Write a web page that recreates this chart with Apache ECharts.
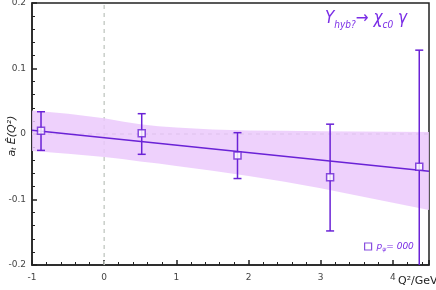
<!DOCTYPE html>
<html>
<head>
<meta charset="utf-8">
<script src="https://cdn.jsdelivr.net/npm/echarts@6/dist/echarts.min.js"></script>
<style>html,body{margin:0;padding:0;background:#fff}#c{width:436px;height:290px}</style>
</head>
<body>
<div id="c"></div>
<script>
// Data points: x, value, error-bar bottom, error-bar top
const pointX   = [-0.875, 0.52, 1.847, 3.13, 4.365];
const pointY   = [0.005, 0.001, -0.033, -0.066, -0.050];
const errLow   = [-0.025, -0.031, -0.068, -0.148, -0.200];
const errHigh  = [0.034, 0.031, 0.002, 0.015, 0.128];
// Fit line end points
const fitX = [-1, 4.5];
const fitY = [0.0056, -0.057];
// Error band
const bandX    = [-1, -0.5, 0, 0.25, 0.5, 0.75, 1, 1.5, 2, 2.5, 3, 3.5, 4, 4.5];
const bandHigh = [0.036, 0.031, 0.024, 0.019, 0.015, 0.012, 0.010, 0.007, 0.0055, 0.0048, 0.0042, 0.0037, 0.0033, 0.003];
const bandLow  = [-0.026, -0.030, -0.035, -0.038, -0.042, -0.045, -0.049, -0.056, -0.064, -0.073, -0.083, -0.094, -0.105, -0.116];
// Axis ranges and titles
const xRange = [-1, 4.5];
const yRange = [-0.2, 0.2];
const xTitle = 'Q²/GeV';
const yTitle = 'a{sub|t} Ê(Q²)';

const PURPLE = '#6a22d6';
const BAND = '#ebc9fc';
const DASH = '#c9cec9';

const chart = echarts.init(document.getElementById('c'), null, {renderer: 'canvas'});

const errData = pointX.map((x, i) => [x, pointY[i], errLow[i], errHigh[i]]);

chart.setOption({
  animation: false,
  textStyle: {fontFamily: 'DejaVu Sans'},
  title: {
    text: 'Υ{sub|hyb?}→ χ{sub|c0} γ',
    left: 325, top: 8, padding: 0,
    textStyle: {
      fontFamily: 'DejaVu Sans Condensed', fontStyle: 'italic', fontSize: 17, fontWeight: 'normal', color: '#7a2de6',
      rich: {
        sub: {fontFamily: 'DejaVu Sans Condensed', fontStyle: 'italic', fontSize: 10, color: '#7a2de6', verticalAlign: 'bottom', padding: [12, 0, 0, 0]}
      }
    }
  },
  legend: {
    left: 364, top: 242, padding: 0,
    itemWidth: 7, itemHeight: 7, itemGap: 6,
    data: [{name: 'p_psi', icon: 'rect', itemStyle: {color: '#fff', borderColor: PURPLE, borderWidth: 1.2}}],
    formatter: function () { return '{i|p}{s|ψ}{i|= 000}'; },
    textStyle: {
      color: '#7a2de6', fontStyle: 'italic', fontSize: 9,
      rich: {
        i: {fontStyle: 'italic', fontSize: 9, color: '#7a2de6'},
        s: {fontStyle: 'italic', fontSize: 6, color: '#7a2de6', padding: [6, 0, 0, 0]}
      }
    }
  },
  graphic: [
    {
      type: 'text', left: 398, top: 276, silent: true,
      style: {text: xTitle, fill: '#222', font: '11px "DejaVu Sans"'}
    },
    {
      type: 'text', x: 12, y: 136, rotation: Math.PI / 2, silent: true,
      style: {
        text: yTitle, fill: '#222', align: 'center', verticalAlign: 'middle',
        font: 'italic 11px "DejaVu Sans"',
        rich: {sub: {fontSize: 7, fontStyle: 'italic', fill: '#222', padding: [5, 0, 0, 0]}}
      }
    }
  ],
  grid: {left: 32, right: 7, top: 3, bottom: 25, containLabel: false, outerBoundsMode: 'none',
    show: true, borderColor: '#222', borderWidth: 1.5, backgroundColor: 'transparent'},
  xAxis: {
    type: 'value', min: xRange[0], max: xRange[1], interval: 1,
    axisLine: {onZero: false, lineStyle: {color: '#222', width: 1.5}},
    axisTick: {inside: true, length: 5, lineStyle: {color: '#222', width: 1.5}},
    minorTick: {show: true, splitNumber: 5, length: 3, lineStyle: {color: '#222', width: 1}},
    axisLabel: {color: '#444', fontSize: 9, margin: 8, showMaxLabel: false},
    splitLine: {show: false}
  },
  yAxis: {
    type: 'value', min: yRange[0], max: yRange[1], interval: 0.1,
    axisLine: {onZero: false, lineStyle: {color: '#222', width: 1.5}},
    axisTick: {inside: true, length: 5, lineStyle: {color: '#222', width: 1.5}},
    minorTick: {show: true, splitNumber: 5, length: 3, lineStyle: {color: '#222', width: 1}},
    axisLabel: {color: '#444', fontSize: 9, margin: 6},
    splitLine: {show: false}
  },
  series: [
    {
      type: 'line', name: 'zeroV', silent: true, symbol: 'none', z: 1,
      data: [[0, yRange[0]], [0, yRange[1]]],
      lineStyle: {color: DASH, width: 1.5, type: [4, 4]}
    },
    {
      type: 'line', name: 'zeroH', silent: true, symbol: 'none', z: 1,
      data: [[xRange[0], 0], [xRange[1], 0]],
      lineStyle: {color: '#b9bdb9', width: 1.5, type: [4, 4]}
    },
    {
      type: 'custom', name: 'band', silent: true, z: 2,
      data: [[bandX[0], bandHigh[0]]],
      renderItem: function (params, api) {
        const pts = [];
        for (let i = 0; i < bandX.length; i++) pts.push(api.coord([bandX[i], bandHigh[i]]));
        for (let i = bandX.length - 1; i >= 0; i--) pts.push(api.coord([bandX[i], bandLow[i]]));
        return {type: 'polygon', shape: {points: pts}, style: {fill: BAND, opacity: 0.85}};
      }
    },
    {
      type: 'line', name: 'fit', silent: true, symbol: 'none', z: 3,
      data: fitX.map((x, i) => [x, fitY[i]]),
      lineStyle: {color: PURPLE, width: 1.5}
    },
    {
      type: 'custom', name: 'err', silent: true, z: 4,
      data: errData,
      renderItem: function (params, api) {
        const x = api.value(0), lo = api.value(2), hi = api.value(3);
        const p1 = api.coord([x, hi]), p2 = api.coord([x, lo]);
        const w = 4;
        const st = {stroke: PURPLE, lineWidth: 1.5};
        const ch = [
          {type: 'line', shape: {x1: p1[0], y1: p1[1], x2: p2[0], y2: p2[1]}, style: st},
          {type: 'line', shape: {x1: p1[0] - w, y1: p1[1], x2: p1[0] + w, y2: p1[1]}, style: st}
        ];
        if (lo > yRange[0]) ch.push({type: 'line', shape: {x1: p2[0] - w, y1: p2[1], x2: p2[0] + w, y2: p2[1]}, style: st});
        return {type: 'group', children: ch};
      }
    },
    {
      type: 'scatter', name: 'p_psi', z: 5,
      symbol: 'rect', symbolSize: 7,
      data: pointX.map((x, i) => [x, pointY[i]]),
      itemStyle: {color: '#fff', borderColor: PURPLE, borderWidth: 1.5}
    }
  ]
});
</script>
</body>
</html>
